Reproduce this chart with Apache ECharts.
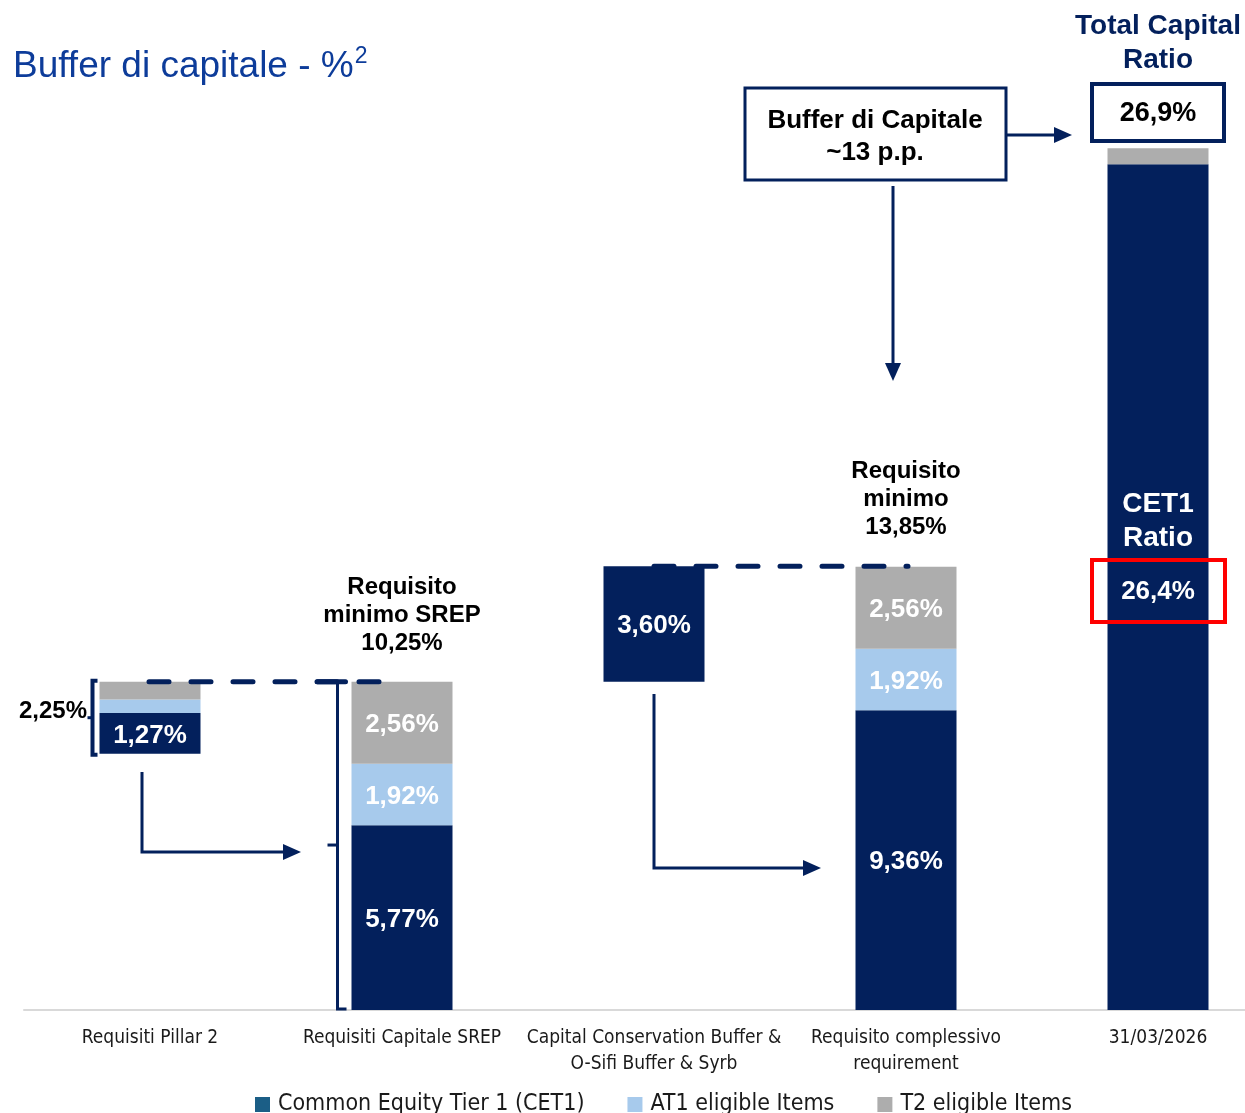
<!DOCTYPE html>
<html>
<head>
<meta charset="utf-8">
<script src="https://cdn.jsdelivr.net/npm/echarts@6/dist/echarts.min.js"></script>
<style>
html,body{margin:0;padding:0;background:#fff;}
#c{width:1245px;height:1113px;}
</style>
</head>
<body>
<div id="c"></div>
<script>
const categories = ['Requisiti Pillar 2', 'Requisiti Capitale SREP', 'Capital Conservation Buffer &\nO-Sifi Buffer & Syrb', 'Requisito complessivo\nrequirement', '31/03/2026'];
const baseOffset = [8.00, 0, 10.25, 0, 0];
const cet1 = [1.27, 5.77, 3.60, 9.36, 26.4];
const at1 = [0.42, 1.92, 0, 1.92, 0];
const t2 = [0.56, 2.56, 0, 2.56, 0.5];
const cet1Labels = ['1,27%', '5,77%', '3,60%', '9,36%', '26,4%'];
const at1Labels = ['', '1,92%', '', '1,92%', ''];
const t2Labels = ['', '2,56%', '', '2,56%', ''];
const legendNames = ['Common Equity Tier 1 (CET1)', 'AT1 eligible Items', 'T2 eligible Items'];

const NAVY = '#03205c';
const LBLUE = '#a7caec';
const GRAY = '#adadad';
const FONT = '"Liberation Sans", Arial, sans-serif';
const NARROW = '"Liberation Sans Narrow", "DejaVu Sans Condensed", "Liberation Sans", sans-serif';

const chart = echarts.init(document.getElementById('c'), null, {renderer: 'canvas'});

function lbl(arr) {
  return {
    show: true, position: 'inside', color: '#fff', fontFamily: FONT,
    fontWeight: 'bold', fontSize: 26, offset: [0, 2],
    formatter: p => arr[p.dataIndex]
  };
}

chart.setOption({
  animation: false,
  backgroundColor: '#fff',
  grid: {left: 24, width: 1260, top: 41, bottom: 103, containLabel: false, outerBoundsMode: 'none'},
  xAxis: {
    type: 'category', data: categories,
    axisLine: {lineStyle: {color: '#d9d9d9', width: 2}},
    axisTick: {show: false},
    axisLabel: {interval: 0, color: '#1a1a1a', fontFamily: NARROW, fontSize: 19, lineHeight: 26, margin: 15}
  },
  yAxis: {type: 'value', min: 0, max: 30.25, show: false, splitLine: {show: false}},
  legend: {
    left: 250, top: 1088, itemWidth: 15, itemHeight: 15, itemGap: 43, icon: 'rect',
    textStyle: {fontFamily: NARROW, fontSize: 23, color: '#1a1a1a', padding: [0, 0, 0, 3]},
    data: [
      {name: legendNames[0], itemStyle: {color: '#1b5e86'}},
      {name: legendNames[1], itemStyle: {color: LBLUE}},
      {name: legendNames[2], itemStyle: {color: GRAY}}
    ]
  },
  series: [
    {name: 'base', type: 'bar', stack: 's', barWidth: 101, silent: true,
     itemStyle: {color: 'rgba(0,0,0,0)'}, data: baseOffset},
    {name: legendNames[0], type: 'bar', stack: 's', barWidth: 101,
     itemStyle: {color: NAVY}, label: lbl(cet1Labels),
     data: cet1.map((v, i) => i === 4 ? {value: v, label: {offset: [0, 5]}} : v)},
    {name: legendNames[1], type: 'bar', stack: 's', barWidth: 101,
     itemStyle: {color: LBLUE}, label: lbl(at1Labels), data: at1},
    {name: legendNames[2], type: 'bar', stack: 's', barWidth: 101,
     itemStyle: {color: GRAY}, label: lbl(t2Labels), data: t2}
  ]
});

function P(i, v) { return chart.convertToPixel({gridIndex: 0}, [i, v]); }
const HW = 50.5;
const els = [];
function line(pts, w, extra) {
  els.push(Object.assign({type: 'polyline', shape: {points: pts}, style: {stroke: NAVY, lineWidth: w || 3, fill: null, lineJoin: 'miter'}, z: 100}, extra || {}));
}
function head(x, y, dir) {
  const L = 18, W = 8;
  let pts;
  if (dir === 'right') pts = [[x, y], [x - L, y - W], [x - L, y + W]];
  else if (dir === 'down') pts = [[x, y], [x - W, y - L], [x + W, y - L]];
  els.push({type: 'polygon', shape: {points: pts}, style: {fill: NAVY}, z: 100});
}
function text(x, y, t, size, color, weight, extra) {
  els.push({type: 'text', x: x, y: y + 2, z: 110, style: Object.assign({
    text: t, fontFamily: FONT, fontSize: size, fontWeight: weight || 'bold', fill: color,
    align: 'center', verticalAlign: 'middle', lineHeight: Math.round(size * 1.25)
  }, extra || {})});
}
function box(x1, y1, x2, y2, color, w) {
  els.push({type: 'rect', shape: {x: x1, y: y1, width: x2 - x1, height: y2 - y1}, style: {fill: null, stroke: color, lineWidth: w}, z: 105});
}

// Title
els.push({type: 'text', x: 13, y: 63, z: 110, style: {
  text: '{m|Buffer di capitale - %}{s|2}', verticalAlign: 'middle',
  rich: {
    m: {fontFamily: FONT, fontSize: 37, fill: '#0d3c9a', lineHeight: 44, verticalAlign: 'bottom'},
    s: {fontFamily: FONT, fontSize: 23, fill: '#0d3c9a', lineHeight: 44, verticalAlign: 'top', padding: [4, 0, 0, 1]}
  }
}});

const x4 = P(4, 0)[0];
const x3 = P(3, 0)[0];
const x2 = P(2, 0)[0];
const x1 = P(1, 0)[0];
const x0 = P(0, 0)[0];
const yBase = P(0, 0)[1];
const ySREP = P(1, cet1[1] + at1[1] + t2[1])[1];
const yReq = P(3, baseOffset[2] + cet1[2])[1];
const yP2bot = P(0, baseOffset[0])[1];
const ySREPmid = P(1, 5.15)[1];

// Total capital ratio header
text(x4, 41, 'Total Capital\nRatio', 28, NAVY, 'bold', {lineHeight: 34});
box(x4 - 66, 84, x4 + 66, 141, NAVY, 4);
text(x4, 112, '26,9%', 27, '#000');

// Buffer box
box(745, 88, 1006, 180, NAVY, 3);
text(875, 135, 'Buffer di Capitale\n~13 p.p.', 26, '#000', 'bold', {lineHeight: 32});
line([[1006, 135], [1055, 135]], 3);
head(1072, 135, 'right');
line([[893, 186], [893, 365]], 3);
head(893, 381, 'down');

// Requisito labels
text(x3, 497, 'Requisito\nminimo\n13,85%', 24, '#000', 'bold', {lineHeight: 28});
text(x1, 613, 'Requisito\nminimo SREP\n10,25%', 24, '#000', 'bold', {lineHeight: 28});

// Dashed lines
els.push({type: 'line', shape: {x1: x0 - 1, y1: ySREP, x2: 380, y2: ySREP}, z: 102,
  style: {stroke: NAVY, lineWidth: 5, lineDash: [20, 22], lineCap: 'round'}});
els.push({type: 'line', shape: {x1: x2, y1: yReq, x2: x3 + 2, y2: yReq}, z: 102,
  style: {stroke: NAVY, lineWidth: 5, lineDash: [20, 22], lineCap: 'round'}});

// Pillar 2 bracket
const bxP = x0 - HW - 7;
line([[bxP + 5, ySREP - 1], [bxP, ySREP - 1], [bxP, yP2bot + 1], [bxP + 5, yP2bot + 1]], 4);
line([[bxP - 5, (ySREP + yP2bot) / 2], [bxP, (ySREP + yP2bot) / 2]], 3);
text(53, 709, '2,25%', 24, '#000');

// SREP bracket
const bxS = x1 - HW - 14;
line([[bxS - 20, ySREP], [bxS + 8, ySREP]], 5, {style: {stroke: NAVY, lineWidth: 5, lineCap: 'round', fill: null}});
line([[bxS, ySREP], [bxS, yBase - 1], [bxS + 9, yBase - 1]], 3);
line([[bxS - 10, ySREPmid], [bxS, ySREPmid]], 3);

// L-arrows
line([[x0 - 8, 772], [x0 - 8, 852], [283, 852]], 3);
head(301, 852, 'right');
line([[x2, 694], [x2, 868], [803, 868]], 3);
head(821, 868, 'right');

// CET1 Ratio text and red box
text(x4, 519, 'CET1\nRatio', 28, '#fff', 'bold', {lineHeight: 34});
box(x4 - 66, 560, x4 + 67, 622, '#ff0000', 4);

chart.setOption({graphic: {elements: els}});
</script>
</body>
</html>
